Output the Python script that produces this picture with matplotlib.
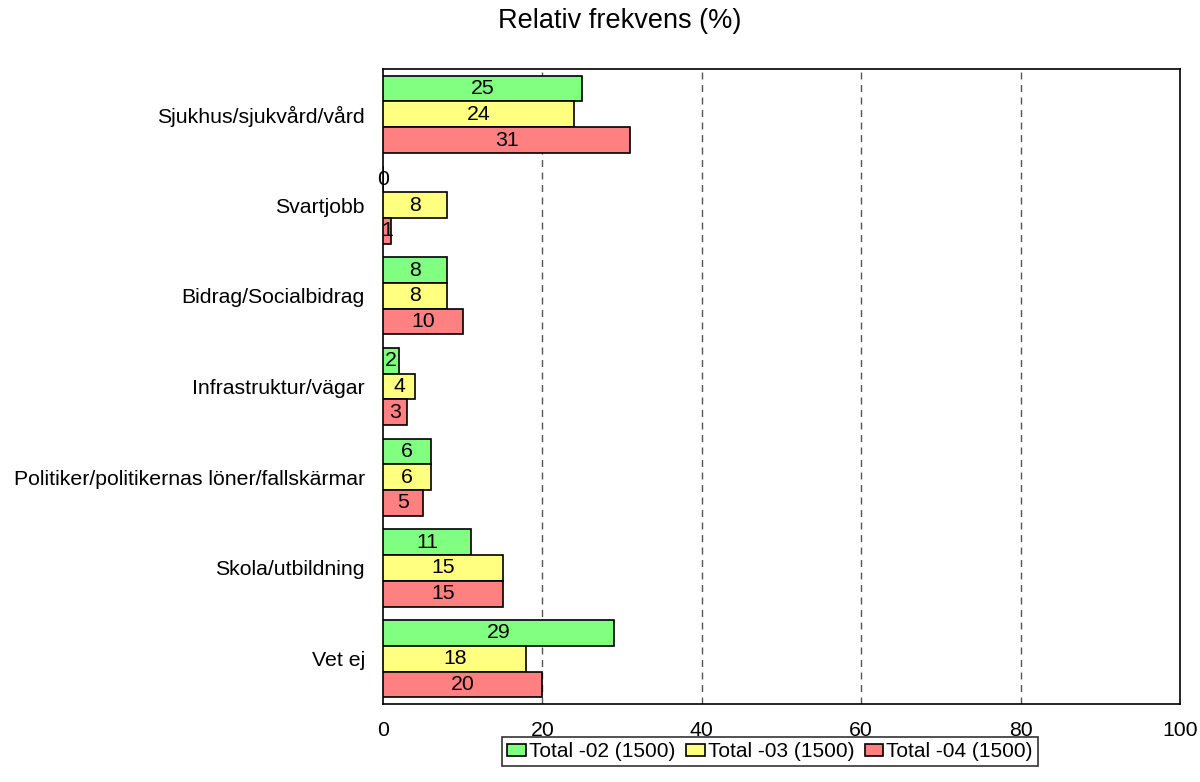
import matplotlib
matplotlib.use("Agg")
import matplotlib.pyplot as plt
import numpy as np

plt.rcParams['font.family'] = ['Liberation Sans', 'DejaVu Sans']

categories = ["Sjukhus/sjukvård/vård", "Svartjobb", "Bidrag/Socialbidrag",
              "Infrastruktur/vägar", "Politiker/politikernas löner/fallskärmar",
              "Skola/utbildning", "Vet ej"]
series_names = ["Total -02 (1500)", "Total -03 (1500)", "Total -04 (1500)"]
vals_02 = [25, 0, 8, 2, 6, 11, 29]
vals_03 = [24, 8, 8, 4, 6, 15, 18]
vals_04 = [31, 1, 10, 3, 5, 15, 20]
colors = ["#80FF80", "#FFFF80", "#FF8080"]
xticks = [0, 20, 40, 60, 80, 100]

fig = plt.figure(figsize=(12, 7.82), dpi=100)
ax = fig.add_axes([383/1200, 1-704/782, (1180-383)/1200, (704-69)/782])

n = len(categories)
ypos = np.arange(n)
h = 0.284
offsets = [-h, 0, h]
for vals, col, off, name in zip([vals_02, vals_03, vals_04], colors, offsets, series_names):
    ax.barh(ypos + off, vals, height=h, color=col, edgecolor='black',
            linewidth=1.2, label=name, zorder=3)
    for y, v in zip(ypos + off, vals):
        ax.text(v/2, y, str(v), ha='center', va='center', fontsize=15.3, zorder=4)

ax.set_xlim(0, 100)
ax.set_ylim(n - 0.5, -0.5)
ax.set_yticks(ypos)
ax.set_yticklabels(categories, fontsize=15.3)
ax.set_xticks(xticks)
ax.set_xticklabels([str(x) for x in xticks], fontsize=15.3)
ax.tick_params(axis='both', length=0)
ax.tick_params(axis='x', pad=12)
ax.tick_params(axis='y', pad=13)
for x in xticks[1:-1]:
    ax.axvline(x, color='#555555', linestyle=(0, (5, 4)), linewidth=1, zorder=1)
for s in ax.spines.values():
    s.set_linewidth(1.2)

fig.text(620/1200, 1-21/782, "Relativ frekvens (%)", ha='center', va='center', fontsize=19.5)

leg = fig.legend(loc='upper center', bbox_to_anchor=(770/1200, 1-737/782), ncol=3,
                 fontsize=15, frameon=True, fancybox=False, edgecolor='black',
                 handlelength=0.9, handleheight=0.55, handletextpad=0.15,
                 columnspacing=0.5, borderpad=0.25, borderaxespad=0)
leg.get_frame().set_linewidth(1.2)

fig.savefig("out.png", dpi=100)
